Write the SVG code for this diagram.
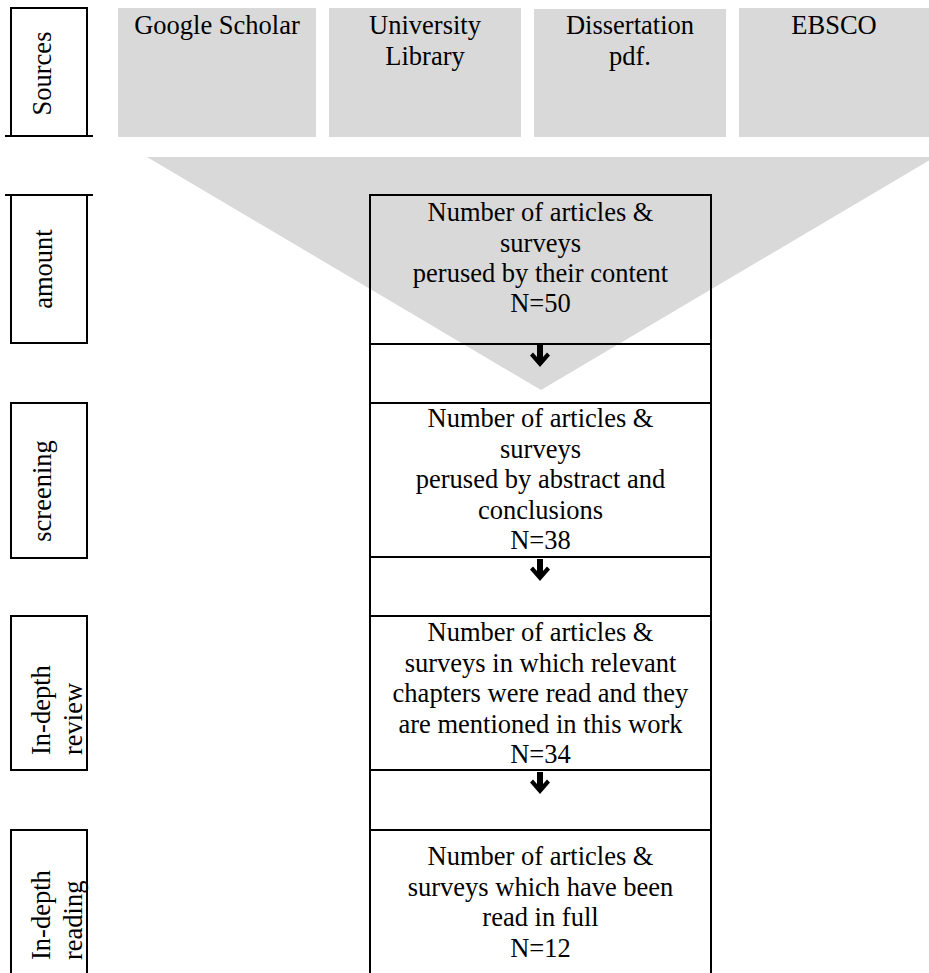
<svg xmlns="http://www.w3.org/2000/svg" width="929" height="973" viewBox="0 0 929 973">
<defs>
<style>
.t{font-family:'Liberation Serif','Tinos','DejaVu Serif',serif;font-size:26.5px;fill:#000}
.c{text-anchor:middle}
.src{fill:#d9d9d9}
.box{fill:none;stroke:#000;stroke-width:2}
.ln{stroke:#000;stroke-width:2;fill:none}
.arr{fill:#000}
</style>
</defs>
<rect width="929" height="973" fill="#fff"/>
<g id="funnel"><polygon points="147,157 935,157 541,390" fill="#d9d9d9"/></g>
<g id="src-google"><rect class="src" x="118" y="8" width="198" height="129"/><text class="t c" x="217" y="34">Google Scholar</text></g>
<g id="src-library"><rect class="src" x="329" y="8" width="192" height="129"/><text class="t c" x="425" y="34">University</text><text class="t c" x="425" y="65">Library</text></g>
<g id="src-dissertation"><rect class="src" x="534" y="9" width="192" height="128"/><text class="t c" x="630" y="34">Dissertation</text><text class="t c" x="630" y="65">pdf.</text></g>
<g id="src-ebsco"><rect class="src" x="739" y="8" width="190" height="129"/><text class="t c" x="834" y="34">EBSCO</text></g>
<g id="label-sources"><rect class="box" x="11" y="8" width="76" height="128"/><line class="ln" x1="5" y1="136" x2="93" y2="136"/><text class="t c" transform="translate(51,73.5) rotate(-90)">Sources</text></g>
<g id="label-amount"><rect class="box" x="11" y="195" width="76" height="148"/><line class="ln" x1="5" y1="195" x2="93" y2="195"/><text class="t c" transform="translate(52,269) rotate(-90)">amount</text></g>
<g id="label-screening"><rect class="box" x="11" y="403" width="76" height="155"/><text class="t c" transform="translate(51,491) rotate(-90)">screening</text></g>
<g id="label-review"><rect class="box" x="11" y="616" width="76" height="154"/><text class="t" transform="translate(50,755) rotate(-90)">In-depth</text><text class="t" transform="translate(81.5,755) rotate(-90)">review</text></g>
<g id="label-reading"><path class="ln" d="M11,974 V830 H87 V974"/><text class="t" transform="translate(50,960) rotate(-90)">In-depth</text><text class="t" transform="translate(82,960) rotate(-90)">reading</text></g>
<g id="step1"><rect class="box" x="370" y="195" width="341" height="149"/><text class="t c" x="540.5" y="221">Number of articles &amp;</text><text class="t c" x="540.5" y="251.5">surveys</text><text class="t c" x="540.5" y="282">perused by their content</text><text class="t c" x="540.5" y="312">N=50</text></g>
<g id="step2"><rect class="box" x="370" y="403" width="341" height="154"/><text class="t c" x="540.5" y="427">Number of articles &amp;</text><text class="t c" x="540.5" y="457.5">surveys</text><text class="t c" x="540.5" y="488">perused by abstract and</text><text class="t c" x="540.5" y="518.5">conclusions</text><text class="t c" x="540.5" y="549">N=38</text></g>
<g id="step3"><rect class="box" x="370" y="616" width="341" height="154"/><text class="t c" x="540.5" y="641">Number of articles &amp;</text><text class="t c" x="540.5" y="671.5">surveys in which relevant</text><text class="t c" x="540.5" y="702">chapters were read and they</text><text class="t c" x="540.5" y="732.5">are mentioned in this work</text><text class="t c" x="540.5" y="763">N=34</text></g>
<g id="step4"><path class="ln" d="M370,974 V830 H711 V974"/><text class="t c" x="540.5" y="865">Number of articles &amp;</text><text class="t c" x="540.5" y="895.5">surveys which have been</text><text class="t c" x="540.5" y="926">read in full</text><text class="t c" x="540.5" y="956.5">N=12</text></g>
<g id="connectors">
<rect class="box" x="370" y="344" width="341" height="59"/>
<rect class="box" x="370" y="557" width="341" height="59"/>
<rect class="box" x="370" y="770" width="341" height="60"/>
<path class="arr" d="M537,345 H543 V357 L547,352.5 L550,355.5 L540,367 L530,355.5 L533,352.5 L537,357 Z"/>
<path class="arr" d="M537,559 H543 V571 L547,566.5 L550,569.5 L540,581 L530,569.5 L533,566.5 L537,571 Z"/>
<path class="arr" d="M537,772 H543 V784 L547,779.5 L550,782.5 L540,794 L530,782.5 L533,779.5 L537,784 Z"/>
</g>
</svg>
